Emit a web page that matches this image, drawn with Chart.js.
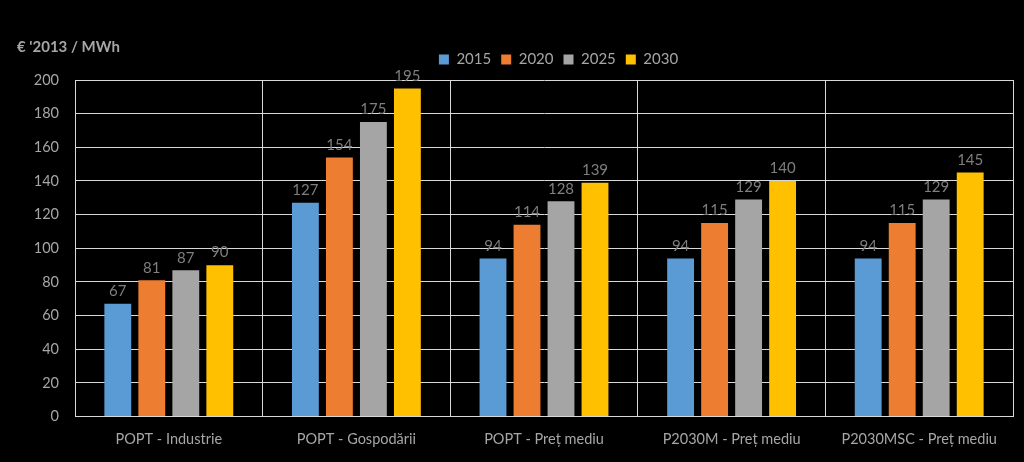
<!DOCTYPE html>
<html><head><meta charset="utf-8">
<script src="https://cdn.jsdelivr.net/npm/chart.js@4/dist/chart.umd.min.js"></script>
<style>html,body{margin:0;padding:0;background:#000;}#wrap{width:1024px;height:462px;position:relative;}</style>
</head><body><div id="wrap"><canvas id="c" width="1024" height="462"></canvas></div>
<script>
const categories = ["POPT - Industrie", "POPT - Gospodării", "POPT - Preț mediu", "P2030M - Preț mediu", "P2030MSC - Preț mediu"];
const seriesNames = ["2015", "2020", "2025", "2030"];
const v2015 = [67, 127, 94, 94, 94];
const v2020 = [81, 154, 114, 115, 115];
const v2025 = [87, 175, 128, 129, 129];
const v2030 = [90, 195, 139, 140, 145];
const colors = ["#5b9bd5", "#ed7d31", "#a5a5a5", "#ffc000"];
const unitLabel = "€ '2013 / MWh";

const FONT = "Lato, 'Open Sans', sans-serif";
const txt = "#a6a6a6";

const valueLabels = {
  id: 'valueLabels',
  afterDatasetsDraw(chart) {
    const ctx = chart.ctx;
    ctx.save();
    ctx.font = "15px " + FONT;
    ctx.fillStyle = "#7f7f7f";
    ctx.textAlign = "center";
    ctx.textBaseline = "bottom";
    chart.data.datasets.forEach((ds, i) => {
      chart.getDatasetMeta(i).data.forEach((bar, j) => {
        ctx.fillText(String(ds.data[j]), bar.x, bar.y - 5);
      });
    });
    ctx.restore();
  }
};
const unitTitle = {
  id: 'unitTitle',
  afterDraw(chart) {
    const ctx = chart.ctx;
    ctx.save();
    ctx.font = "bold 15px " + FONT;
    ctx.fillStyle = txt;
    ctx.textAlign = "left";
    ctx.textBaseline = "middle";
    ctx.fillText(unitLabel, 17, 47);
    ctx.restore();
  }
};
const legendShift = {
  id: 'legendShift',
  afterLayout(chart) {
    const lg = chart.legend;
    if (!lg) return;
    lg.top -= 3; lg.bottom -= 3;
    lg.left += 52; lg.right += 52;
  }
};
const bg = {
  id: 'bg',
  beforeDraw(chart) {
    const ctx = chart.ctx;
    ctx.save();
    ctx.fillStyle = "#000";
    ctx.fillRect(0, 0, chart.width, chart.height);
    ctx.restore();
  }
};

const datasets = [v2015, v2020, v2025, v2030].map((d, i) => ({
  label: seriesNames[i],
  data: d,
  backgroundColor: colors[i],
  borderWidth: 0,
  categoryPercentage: 0.725,
  barPercentage: 0.79
}));

new Chart(document.getElementById('c'), {
  type: 'bar',
  data: { labels: categories, datasets },
  options: {
    responsive: false,
    animation: false,
    layout: { padding: { left: 0, right: 11, top: 45, bottom: 0 } },
    plugins: {
      legend: {
        display: true,
        position: 'top',
        labels: { boxWidth: 10, boxHeight: 10, color: txt, font: { size: 15, family: FONT }, padding: 10 }
      },
      tooltip: { enabled: false }
    },
    scales: {
      x: {
        grid: { color: "#d9d9d9", lineWidth: 1, drawTicks: false, offset: true },
        border: { color: "#d9d9d9" },
        ticks: { color: txt, font: { size: 14.5, family: FONT }, padding: 14 }
      },
      y: {
        min: 0, max: 200,
        afterFit(s) { s.width = 75; },
        grid: { color: "#d9d9d9", lineWidth: 1, drawTicks: false },
        border: { color: "#d9d9d9" },
        ticks: { stepSize: 20, color: txt, font: { size: 14.5, family: FONT }, padding: 16 }
      }
    }
  },
  plugins: [bg, legendShift, valueLabels, unitTitle]
});
</script></body></html>
